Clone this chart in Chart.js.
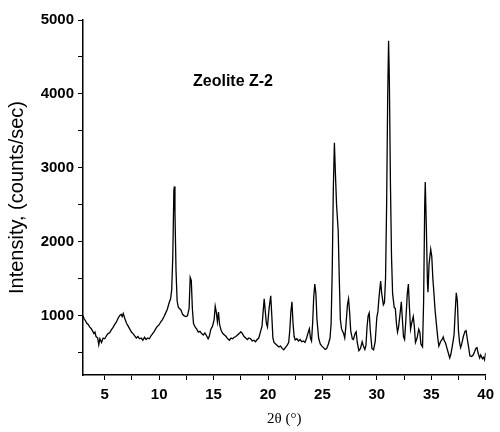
<!DOCTYPE html>
<html>
<head>
<meta charset="utf-8">
<script src="https://cdn.jsdelivr.net/npm/chart.js@4"></script>
<style>
  body { margin: 0; background: #fff; }
  #wrap { width: 500px; height: 432px; }
</style>
</head>
<body>
<div id="wrap"><canvas id="xrd"></canvas></div>
<script>
// 2theta (deg) and counts
const twoTheta = [
  3.0, 3.1, 3.2, 3.35, 3.5, 3.6, 3.75, 3.9, 4.0, 4.1, 4.2, 4.35, 4.45, 4.55, 4.7, 4.85,
  5.0, 5.15, 5.3, 5.45, 5.6, 5.75, 5.9, 6.05, 6.2, 6.35, 6.5, 6.6, 6.7, 6.85,
  7.0, 7.15, 7.3, 7.45, 7.6, 7.75, 7.9, 8.05, 8.2, 8.35, 8.5, 8.65, 8.8, 8.95,
  9.1, 9.25, 9.4, 9.55, 9.7, 9.85, 10.0, 10.15, 10.3, 10.45, 10.6, 10.75, 10.9,
  11.05, 11.15, 11.25, 11.35, 11.4, 11.45, 11.55, 11.65, 11.75, 11.85, 12.0, 12.15,
  12.3, 12.45, 12.6, 12.75, 12.85, 12.95, 13.05, 13.15, 13.3, 13.45, 13.6, 13.75,
  13.9, 14.05, 14.2, 14.35, 14.5, 14.6, 14.75, 14.9, 15.05, 15.15, 15.25, 15.35,
  15.45, 15.55, 15.7, 15.85, 16.0, 16.15, 16.3, 16.45, 16.6, 16.75, 16.9, 17.05,
  17.2, 17.35, 17.5, 17.65, 17.8, 17.95, 18.1, 18.25, 18.4, 18.55, 18.7, 18.85,
  19.0, 19.15, 19.3, 19.45, 19.55, 19.65, 19.75, 19.85, 19.95, 20.1, 20.25, 20.35,
  20.45, 20.55, 20.7, 20.85, 21.0, 21.15, 21.3, 21.45, 21.6, 21.75, 21.9, 22.0,
  22.1, 22.2, 22.3, 22.4, 22.5, 22.65, 22.8, 22.95, 23.1, 23.25, 23.4, 23.55, 23.7,
  23.8, 23.9, 24.0, 24.1, 24.2, 24.3, 24.4, 24.5, 24.65, 24.8, 24.95, 25.1, 25.25,
  25.4, 25.55, 25.7, 25.8, 25.9, 26.0, 26.1, 26.2, 26.3, 26.45, 26.55, 26.65, 26.75,
  26.85, 26.95, 27.05, 27.15, 27.3, 27.4, 27.5, 27.6, 27.75, 27.85, 28.0, 28.1,
  28.2, 28.35, 28.5, 28.65, 28.75, 28.9, 29.0, 29.1, 29.2, 29.3, 29.4, 29.55, 29.7,
  29.85, 30.0, 30.1, 30.2, 30.35, 30.45, 30.6, 30.7, 30.8, 30.9, 31.0, 31.08, 31.15,
  31.25, 31.35, 31.45, 31.6, 31.7, 31.8, 31.9, 32.0, 32.15, 32.25, 32.35, 32.45,
  32.55, 32.65, 32.8, 32.9, 33.0, 33.1, 33.2, 33.35, 33.45, 33.55, 33.7, 33.85,
  33.95, 34.05, 34.2, 34.3, 34.4, 34.45, 34.55, 34.65, 34.7, 34.8, 34.95, 35.05,
  35.15, 35.25, 35.35, 35.5, 35.6, 35.7, 35.85, 36.0, 36.1, 36.2, 36.3, 36.45, 36.6,
  36.7, 36.8, 36.9, 37.0, 37.1, 37.2, 37.3, 37.4, 37.5, 37.6, 37.7, 37.8, 37.95,
  38.1, 38.2, 38.3, 38.45, 38.55, 38.7, 38.85, 39.0, 39.1, 39.2, 39.3, 39.45, 39.55,
  39.7, 39.8, 39.9, 40.0
];
const counts = [
  1000, 960, 940, 900, 880, 850, 830, 790, 760, 780, 720, 700, 610, 690, 640, 700,
  690, 730, 760, 770, 810, 840, 880, 910, 960, 1000, 1020, 990, 1030, 960,
  900, 860, 820, 780, 760, 730, 700, 720, 690, 700, 670, 710, 680, 700,
  690, 730, 760, 790, 830, 860, 880, 920, 950, 990, 1040, 1090, 1170,
  1230, 1350, 1800, 2700, 2750, 2400, 1600, 1200, 1120, 1100, 1080, 1020,
  1000, 990, 1000, 1100, 1520, 1480, 1100, 900, 850, 820, 780, 790,
  760, 740, 770, 730, 690, 720, 820, 860, 950, 1130, 1050, 920,
  1050, 880, 800, 760, 740, 720, 690, 670, 700, 690, 710, 720,
  740, 760, 785, 760, 720, 700, 680, 700, 690, 660, 670, 650,
  680, 700, 780, 860, 1050, 1230, 1060, 900, 850, 1100, 1270, 1000,
  700, 640, 620, 600, 580, 590, 560, 540, 570, 600, 640, 800,
  1050, 1190, 900, 720, 675, 690, 660, 680, 650, 660, 640, 700, 780,
  825, 700, 660, 900, 1250, 1430, 1300, 950, 700, 620, 590, 570, 545,
  560, 620, 700, 900, 1600, 2700, 3340, 2900, 2500, 2150, 1500, 950, 830,
  790, 760, 700, 850, 1150, 1230, 1050, 800, 690, 680, 760, 785,
  640, 530, 560, 650, 600, 545, 600, 850, 1000, 1040, 800, 560, 540,
  650, 980, 1060, 1250, 1470, 1300, 1150, 1180, 1500, 2500, 4000, 4720, 4200,
  2800, 1800, 1300, 1110, 1100, 900, 780, 850, 1050, 1190, 950, 720,
  680, 900, 1300, 1430, 1100, 820, 900, 990, 850, 640, 700, 820,
  780, 620, 580, 1200, 2500, 2810, 2200, 1450, 1320, 1700, 1900, 1800,
  1500, 1300, 1080, 850, 700, 590, 650, 680, 715, 660, 640, 560, 480,
  430, 480, 560, 650, 750, 1050, 1310, 1200, 800, 640, 570, 620, 720,
  790, 800, 700, 560, 460, 450, 470, 520, 560, 570, 500, 430, 470,
  420, 440, 405, 500
];
// tick marks (major ones get labels)
const xTicks = [5, 7.5, 10, 12.5, 15, 17.5, 20, 22.5, 25, 27.5, 30, 32.5, 35, 37.5, 40];
const xLabels = [5, 10, 15, 20, 25, 30, 35, 40];
const yTicks = [500, 1000, 1500, 2000, 2500, 3000, 3500, 4000, 4500, 5000];
const yLabels = [1000, 2000, 3000, 4000, 5000];

const sampleName = 'Zeolite Z-2';
const xTitle = '2θ (°)';
const yTitle = 'Intensity, (counts/sec)';

const sans = "Arial, 'Liberation Sans', Helvetica, sans-serif";

// sample label inside the plot
const labelPlugin = {
  id: 'sampleLabel',
  afterDraw(chart) {
    const ctx = chart.ctx;
    const a = chart.chartArea;
    ctx.save();
    ctx.font = 'bold 16px ' + sans;
    ctx.fillStyle = '#000';
    ctx.textAlign = 'left';
    ctx.textBaseline = 'middle';
    ctx.fillText(sampleName, a.left + 110, a.top + 62);
    ctx.restore();
  }
};

const ctx = document.getElementById('xrd').getContext('2d');
const chart = new Chart(ctx, {
  type: 'line',
  data: {
    datasets: [{
      data: twoTheta.map((t, i) => ({ x: t, y: counts[i] })),
      borderColor: '#000',
      borderWidth: 1.3,
      pointRadius: 0,
      tension: 0,
      fill: false
    }]
  },
  options: {
    responsive: true,
    maintainAspectRatio: false,
    animation: false,
    layout: { padding: { top: 20, right: 11, left: 0, bottom: 0 } },
    plugins: {
      legend: { display: false },
      tooltip: { enabled: false }
    },
    scales: {
      x: {
        type: 'linear',
        min: 3,
        max: 40,
        afterBuildTicks: s => { s.ticks = xTicks.map(v => ({ value: v })); },
        afterFit: s => { s.height = 57; },
        ticks: {
          autoSkip: false,
          maxRotation: 0,
          color: '#000',
          padding: 6,
          font: { family: sans, size: 15, weight: 'bold' },
          callback: v => (xLabels.includes(v) ? v : '')
        },
        grid: { drawOnChartArea: false, tickLength: 5, color: '#000', lineWidth: 1 },
        border: { color: '#000', width: 1.5 },
        title: {
          display: true,
          text: xTitle,
          color: '#000',
          font: { family: "'Liberation Serif', 'Times New Roman', serif", size: 15 },
          padding: { top: 2 }
        }
      },
      y: {
        min: 200,
        max: 5000,
        afterBuildTicks: s => { s.ticks = yTicks.map(v => ({ value: v })); },
        afterFit: s => { s.width = 83; },
        ticks: {
          autoSkip: false,
          color: '#000',
          padding: 4,
          font: { family: sans, size: 15, weight: 'bold' },
          callback: v => (yLabels.includes(v) ? v : '')
        },
        grid: { drawOnChartArea: false, tickLength: 5, color: '#000', lineWidth: 1 },
        border: { color: '#000', width: 1.5 },
        title: {
          display: true,
          text: yTitle,
          color: '#000',
          font: { family: sans, size: 20 },
          padding: { top: 5, bottom: 0 }
        }
      }
    }
  },
  plugins: [labelPlugin]
});
</script>
</body>
</html>
